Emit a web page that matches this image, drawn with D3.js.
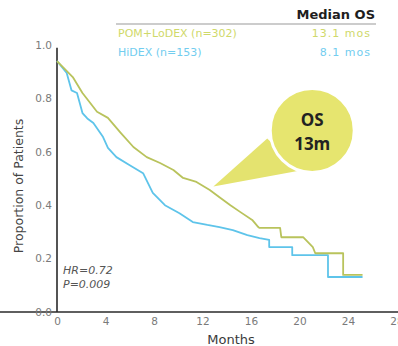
<!DOCTYPE html>
<html>
<head>
<meta charset="utf-8">
<script src="https://cdn.jsdelivr.net/npm/d3@7"></script>
<style>
  html, body { margin: 0; padding: 0; background: #fff; }
  svg { display: block; }
</style>
</head>
<body>
<svg id="chart" width="398" height="346"></svg>
<script>
// Kaplan-Meier overall survival, POM+LoDEX vs HiDEX
const xTicks = [0, 4, 8, 12, 16, 20, 24, 28];
const yTicks = [0.0, 0.2, 0.4, 0.6, 0.8, 1.0];

const pomMonths = [0, 1.3, 2.1, 3.3, 4.2, 5.2, 6.3, 7.4, 8.5, 9.6, 10.4, 11.5, 12.6, 13.4, 14.3, 15.1, 16.1, 16.6, 16.7, 18.4, 18.5, 20.3, 21.1, 21.3, 23.6, 23.6, 25.2];
const pomSurv   = [0.94, 0.88, 0.82, 0.75, 0.727, 0.674, 0.618, 0.58, 0.558, 0.532, 0.502, 0.487, 0.457, 0.43, 0.40, 0.375, 0.345, 0.318, 0.315, 0.315, 0.28, 0.28, 0.243, 0.22, 0.22, 0.139, 0.139];

const hiMonths = [0, 0.8, 1.2, 1.65, 2.1, 2.5, 3.0, 3.8, 4.2, 4.9, 6.0, 7.1, 7.9, 8.9, 10.1, 11.2, 12.4, 13.4, 14.5, 15.7, 16.7, 17.5, 17.5, 19.4, 19.4, 22.35, 22.35, 25.2];
const hiSurv   = [0.94, 0.895, 0.83, 0.82, 0.745, 0.725, 0.708, 0.655, 0.615, 0.58, 0.55, 0.52, 0.446, 0.40, 0.37, 0.337, 0.326, 0.318, 0.307, 0.288, 0.277, 0.27, 0.243, 0.243, 0.213, 0.213, 0.131, 0.131];

const seriesNames = ["POM+LoDEX (n=302)", "HiDEX (n=153)"];
const medianLabels = ["13.1 mos", "8.1 mos"];
const seriesColors = ["#b9c35c", "#5ec4ea"];
const legendColors = ["#cfd96a", "#72cdef"];

const svg = d3.select("#chart");
const x = d3.scaleLinear().domain([0, 28]).range([57, 396.5]);
const y = d3.scaleLinear().domain([0, 1]).range([312, 45]);

const font = "'DejaVu Sans', Verdana, sans-serif";

// axes
const xAxis = svg.append("g").attr("transform", `translate(0,${y(0)})`)
  .call(d3.axisBottom(x).tickValues(xTicks).tickFormat(d3.format("d")).tickSize(0).tickPadding(6));
const yAxis = svg.append("g").attr("transform", `translate(${x(0)},0)`)
  .call(d3.axisLeft(y).tickValues(yTicks).tickFormat(d3.format(".1f")).tickSize(0).tickPadding(5));
[xAxis, yAxis].forEach(g => {
  g.select(".domain").attr("stroke", "#2a2a2a").attr("stroke-width", 1.6);
  g.selectAll("text").attr("fill", "#7a7a7a").style("font-family", font).style("font-size", "10.5px");
});
yAxis.select(".domain").attr("d", `M0,${y(0)}V${y(0.99)}`);
xAxis.select(".domain").attr("d", `M0,0H398`);

// axis titles
svg.append("text").attr("x", 231).attr("y", 344)
  .attr("text-anchor", "middle").attr("fill", "#3a3a3a")
  .style("font-family", font).style("font-size", "13px").text("Months");
svg.append("text").attr("transform", "translate(23,186) rotate(-90)")
  .attr("text-anchor", "middle").attr("fill", "#444")
  .style("font-family", font).style("font-size", "12.5px").text("Proportion of Patients");

// callout bubble
const tip = [x(12.9), y(0.47)];
const bubble = { cx: x(21.05), cy: y(0.68), r: 42 };
svg.append("path")
  .attr("d", `M${tip[0]},${tip[1]} L${bubble.cx - 45},${bubble.cy + 8} L${bubble.cx - 12},${bubble.cy + 40} Z`)
  .attr("fill", "#e4e36f");
svg.append("circle").attr("cx", bubble.cx).attr("cy", bubble.cy).attr("r", bubble.r)
  .attr("fill", "#e6e56f").attr("stroke", "#fff").attr("stroke-width", 3);
svg.append("text").attr("x", bubble.cx).attr("y", bubble.cy - 4).attr("text-anchor", "middle")
  .attr("fill", "#222").style("font-family", "'Open Sans', sans-serif").style("font-weight", "700")
  .style("font-size", "17px").text("OS");
svg.append("text").attr("x", bubble.cx).attr("y", bubble.cy + 20).attr("text-anchor", "middle")
  .attr("fill", "#222").style("font-family", "'Open Sans', sans-serif").style("font-weight", "700")
  .style("font-size", "17px").text("13m");

// survival curves
const line = d3.line().x(d => x(d[0])).y(d => y(d[1]));
const curves = [d3.zip(pomMonths, pomSurv), d3.zip(hiMonths, hiSurv)];
// draw HiDEX first so the POM line stays on top where they overlap
[1, 0].forEach(i => {
  svg.append("path").datum(curves[i])
    .attr("d", line).attr("fill", "none")
    .attr("stroke", seriesColors[i]).attr("stroke-width", 1.8)
    .attr("stroke-linejoin", "round");
});

// statistics
svg.append("text").attr("x", 63).attr("y", 274).attr("fill", "#555")
  .style("font-family", font).style("font-style", "italic").style("font-size", "11px").text("HR=0.72");
svg.append("text").attr("x", 63).attr("y", 288).attr("fill", "#555")
  .style("font-family", font).style("font-style", "italic").style("font-size", "11px").text("P=0.009");

// legend table
svg.append("text").attr("x", 375).attr("y", 19).attr("text-anchor", "end").attr("fill", "#1e1e1e")
  .style("font-family", font).style("font-weight", "700").style("font-size", "13px").text("Median OS");
svg.append("line").attr("x1", 116).attr("x2", 376).attr("y1", 24).attr("y2", 24)
  .attr("stroke", "#999").attr("stroke-width", 1);
seriesNames.forEach((name, i) => {
  const yy = 37 + i * 19;
  svg.append("text").attr("x", 118).attr("y", yy).attr("fill", legendColors[i])
    .style("font-family", font).style("font-size", "11px").text(name);
  svg.append("text").attr("x", 371).attr("y", yy).attr("text-anchor", "end").attr("fill", legendColors[i])
    .style("font-family", font).style("font-size", "11px").style("letter-spacing", "1px").text(medianLabels[i]);
});
</script>
</body>
</html>
